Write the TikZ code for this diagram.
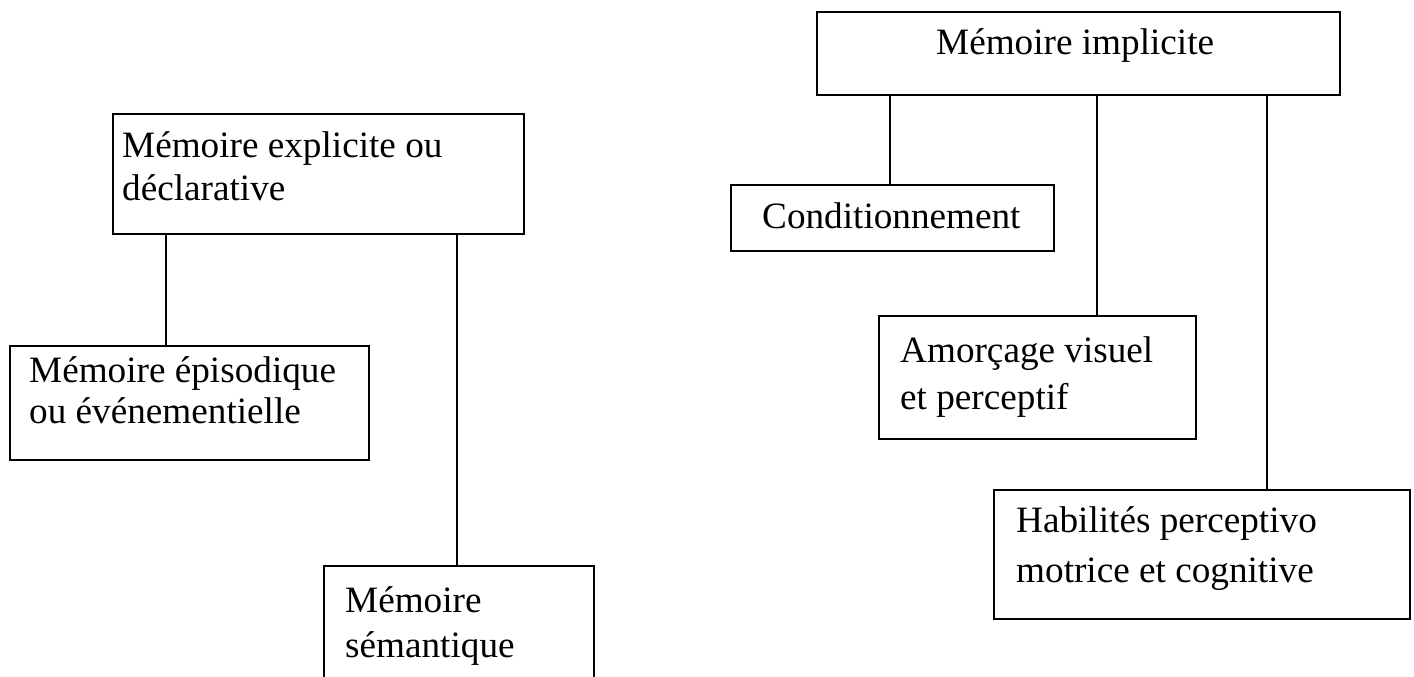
\documentclass[tikz,border=0pt]{standalone}
\usepackage{fontspec}
\setmainfont{Liberation Serif}
\begin{document}
\begin{tikzpicture}[x=1pt,y=-1pt,
  box/.style={draw, line width=1.8pt, rectangle, inner sep=0pt, anchor=north west},
  txt/.style={anchor=base west, inner sep=0pt, font=\fontsize{37.2}{43}\selectfont},
  link/.style={line width=1.6pt}]
\useasboundingbox (0,0) rectangle (1414,677);
\clip (0,0) rectangle (1414,677);
% left tree
\node[box, minimum width=411pt, minimum height=120pt] (expl) at (112,113) {};
\node[txt] (expl1) at (122,157) {Mémoire explicite ou};
\node[txt] (expl2) at (122,200) {déclarative};
\node[box, minimum width=359pt, minimum height=114pt] (epis) at (9,345) {};
\node[txt] (epis1) at (29,382) {Mémoire épisodique};
\node[txt] (epis2) at (29,423) {ou événementielle};
\node[box, minimum width=270pt, minimum height=140pt] (sem) at (323,565) {};
\node[txt] (sem1) at (345,612) {Mémoire};
\node[txt] (sem2) at (345,657) {sémantique};
\draw[link] (expl.south west) ++(54,0) coordinate (e1) -- (e1 |- epis.north);
\draw[link] (expl.south west) ++(345,0) coordinate (e2) -- (e2 |- sem.north);
% right tree
\node[box, minimum width=523pt, minimum height=83pt] (impl) at (816,11) {};
\node[txt] (impl1) at (936,55) {Mémoire implicite};
\node[box, minimum width=323pt, minimum height=66pt] (cond) at (730,184) {};
\node[txt] (cond1) at (762,228) {Conditionnement};
\node[box, minimum width=317pt, minimum height=123pt] (amor) at (878,315) {};
\node[txt] (amor1) at (900,362) {Amorçage visuel};
\node[txt] (amor2) at (900,409) {et perceptif};
\node[box, minimum width=416pt, minimum height=129pt] (habi) at (993,489) {};
\node[txt] (habi1) at (1016,532) {Habilités perceptivo};
\node[txt] (habi2) at (1016,582) {motrice et cognitive};
\draw[link] (impl.south west) ++(74,0) coordinate (i1) -- (i1 |- cond.north);
\draw[link] (impl.south west) ++(281,0) coordinate (i2) -- (i2 |- amor.north);
\draw[link] (impl.south west) ++(451,0) coordinate (i3) -- (i3 |- habi.north);
\end{tikzpicture}
\end{document}
